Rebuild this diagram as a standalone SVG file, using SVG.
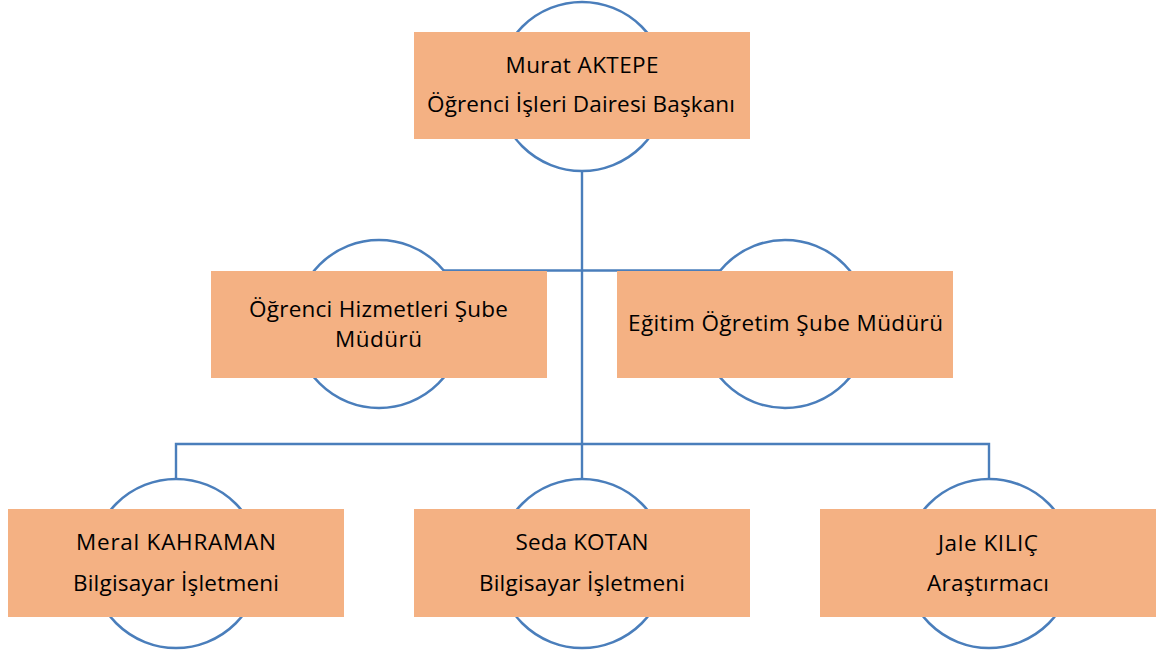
<svg xmlns="http://www.w3.org/2000/svg" width="1161" height="655" viewBox="0 0 1161 655">
<style>
.ring{fill:#fff;stroke:#4A7EBB;stroke-width:2.5}
.box{fill:#F4B183}
.conn{fill:none;stroke:#4A7EBB;stroke-width:2.4}
text{font-family:"Open Sans","Liberation Sans",sans-serif;font-size:22.5px;fill:#000;text-anchor:middle}
</style>
<rect width="1161" height="655" fill="#fff"/>
<g id="connectors">
<path class="conn" d="M582 171V480"/>
<path class="conn" d="M379 270.5H785"/>
<path class="conn" d="M176 480V444H989V480"/>
</g>
<g id="n-top">
<circle class="ring" cx="582" cy="86.5" r="84.5"/>
<rect class="box" x="414" y="32" width="336" height="107"/>
<text x="582" y="73" textLength="153">Murat AKTEPE</text>
<text x="581" y="112" textLength="308">Öğrenci İşleri Dairesi Başkanı</text>
</g>
<g id="n-ohsm">
<circle class="ring" cx="379" cy="324" r="84"/>
<rect class="box" x="211" y="271" width="336" height="107"/>
<text x="378.5" y="317" textLength="259">Öğrenci Hizmetleri Şube</text>
<text x="378.5" y="347" textLength="87">Müdürü</text>
</g>
<g id="n-eosm">
<circle class="ring" cx="785" cy="324" r="84"/>
<rect class="box" x="617" y="271" width="336" height="107"/>
<text x="785.5" y="331" textLength="315">Eğitim Öğretim Şube Müdürü</text>
</g>
<g id="n-meral">
<circle class="ring" cx="176" cy="563.5" r="84.5"/>
<rect class="box" x="8" y="509" width="336" height="108"/>
<text x="176" y="550" textLength="200">Meral KAHRAMAN</text>
<text x="176" y="591" textLength="206">Bilgisayar İşletmeni</text>
</g>
<g id="n-seda">
<circle class="ring" cx="582" cy="563.5" r="84.5"/>
<rect class="box" x="414" y="509" width="336" height="108"/>
<text x="582" y="550" textLength="133">Seda KOTAN</text>
<text x="582" y="591" textLength="206">Bilgisayar İşletmeni</text>
</g>
<g id="n-jale">
<circle class="ring" cx="989" cy="563.5" r="84.5"/>
<rect class="box" x="820" y="509" width="336" height="108"/>
<text x="988" y="551" textLength="100">Jale KILIÇ</text>
<text x="988" y="591" textLength="122">Araştırmacı</text>
</g>
</svg>
